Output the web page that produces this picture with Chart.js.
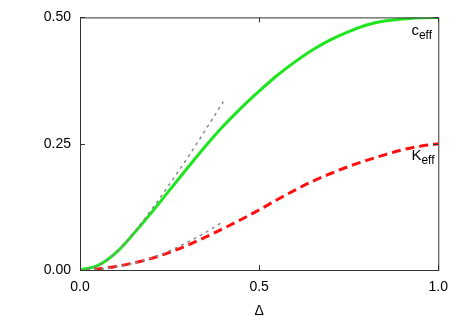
<!DOCTYPE html>
<html>
<head>
<meta charset="utf-8">
<script src="https://cdn.jsdelivr.net/npm/chart.js@4"></script>
<style>
  html, body { margin: 0; padding: 0; background: #fff; }
  #wrap { width: 457px; height: 320px; }
</style>
</head>
<body>
<div id="wrap"><canvas id="plot"></canvas></div>
<script>
// values
var delta = [0, 0.05, 0.1, 0.15, 0.2, 0.25, 0.3, 0.35, 0.4, 0.45, 0.5, 0.55, 0.6, 0.65, 0.7, 0.75, 0.8, 0.85, 0.9, 0.95, 1.0];
var cEff = [0, 0.009, 0.034, 0.072, 0.114, 0.158, 0.202, 0.245, 0.285, 0.321, 0.354, 0.385, 0.412, 0.436, 0.456, 0.472, 0.485, 0.493, 0.497, 0.4995, 0.5];
var kEff = [0, 0.002, 0.007, 0.014, 0.023, 0.035, 0.049, 0.065, 0.082, 0.1, 0.119, 0.139, 0.158, 0.176, 0.191, 0.205, 0.217, 0.228, 0.238, 0.245, 0.25];
// small-Delta approximations (gray dashed)
var approxDelta = [0, 0.05, 0.1, 0.15, 0.2, 0.25, 0.3, 0.35, 0.4];
var cApprox = [0, 0.008, 0.034, 0.074, 0.12, 0.17, 0.222, 0.277, 0.333];
var kApprox = [0, 0.0015, 0.006, 0.0135, 0.024, 0.038, 0.055, 0.074, 0.096];
var yTicks = [0, 0.25, 0.5];
var xTicks = [0, 0.5, 1.0];

var fontFam = '"Liberation Sans", Arial, Helvetica, sans-serif';

function pts(xs, ys) {
    var out = [];
    for (var i = 0; i < xs.length; i++) out.push({x: xs[i], y: ys[i]});
    return out;
}

// box around the plot, inward ticks, curve labels
var framePlugin = {
    id: 'frame',
    afterDraw: function(chart) {
        var c = chart.ctx;
        var a = chart.chartArea;
        var xs = chart.scales.x, ys = chart.scales.y;
        c.save();
        c.strokeStyle = '#333';
        c.lineWidth = 1;
        c.strokeRect(a.left + 0.5, a.top + 0.5, a.right - a.left, a.bottom - a.top);
        c.beginPath();
        yTicks.forEach(function(v) {
            var py = Math.round(ys.getPixelForValue(v)) + 0.5;
            c.moveTo(a.left, py); c.lineTo(a.left + 5, py);
            c.moveTo(a.right, py); c.lineTo(a.right - 5, py);
        });
        xTicks.forEach(function(v) {
            var px = Math.round(xs.getPixelForValue(v)) + 0.5;
            c.moveTo(px, a.bottom); c.lineTo(px, a.bottom - 5);
            c.moveTo(px, a.top); c.lineTo(px, a.top + 5);
        });
        c.stroke();

        // labels with subscripts
        function label(main, sub, xv, yv) {
            var px = xs.getPixelForValue(xv), py = ys.getPixelForValue(yv);
            c.fillStyle = '#000';
            c.textBaseline = 'alphabetic';
            c.font = '15px ' + fontFam;
            c.fillText(main, px, py);
            var w = c.measureText(main).width;
            c.font = '12px ' + fontFam;
            c.fillText(sub, px + w, py + 4);
        }
        label('c', 'eff', 0.925, 0.465);
        label('K', 'eff', 0.925, 0.218);
        c.restore();
    }
};

function curve(name, xs, ys, color, width, dash) {
    return {
        label: name,
        data: pts(xs, ys),
        borderColor: color,
        borderWidth: width,
        borderDash: dash,
        pointRadius: 0,
        cubicInterpolationMode: 'monotone'
    };
}

var chart = new Chart(document.getElementById('plot'), {
    type: 'line',
    data: {
        datasets: [
            curve('c_eff approx', approxDelta, cApprox, '#888888', 1.5, [3, 4]),
            curve('K_eff approx', approxDelta, kApprox, '#888888', 1.5, [3, 4]),
            curve('c_eff', delta, cEff, '#1ee61e', 3, []),
            curve('K_eff', delta, kEff, '#ff0f0f', 3, [9, 5])
        ]
    },
    options: {
        responsive: true,
        maintainAspectRatio: false,
        animation: false,
        layout: { padding: { top: 17, right: 16, left: 0, bottom: 0 } },
        plugins: { legend: { display: false }, tooltip: { enabled: false } },
        scales: {
            x: {
                type: 'linear',
                min: 0, max: 1,
                grid: { display: false, drawTicks: false },
                border: { display: false },
                ticks: {
                    stepSize: 0.5,
                    padding: 9,
                    color: '#000',
                    font: { size: 14, family: fontFam },
                    callback: function(v) { return v.toFixed(1); }
                },
                title: {
                    display: true,
                    text: 'Δ',
                    color: '#000',
                    font: { size: 14, family: fontFam },
                    padding: { top: 0, bottom: 0 }
                },
                afterFit: function(s) { s.height = 50; }
            },
            y: {
                type: 'linear',
                min: 0, max: 0.5,
                grid: { display: false, drawTicks: false },
                border: { display: false },
                ticks: {
                    stepSize: 0.25,
                    padding: 9,
                    color: '#000',
                    font: { size: 14, family: fontFam },
                    callback: function(v) { return v.toFixed(2); }
                },
                afterFit: function(s) { s.width = 80; }
            }
        }
    },
    plugins: [framePlugin]
});
</script>
</body>
</html>
